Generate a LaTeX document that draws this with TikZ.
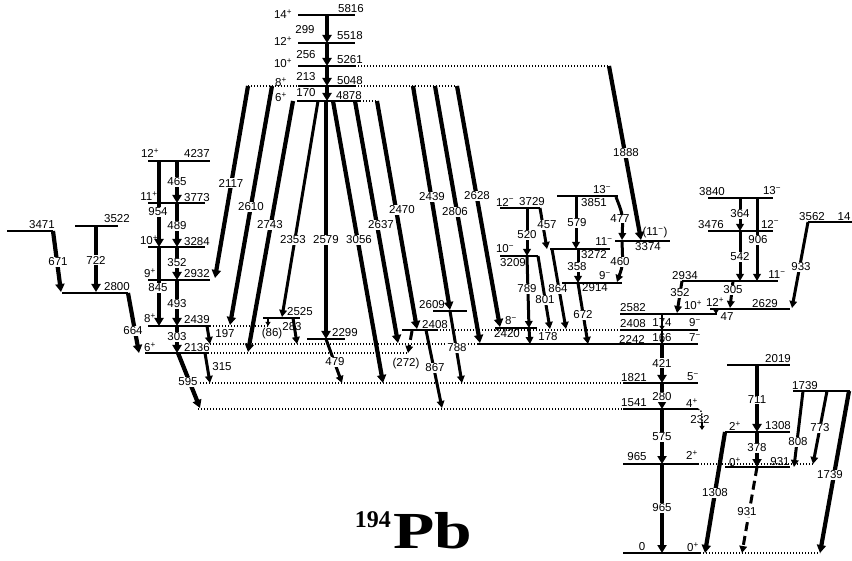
\documentclass[tikz,border=0pt]{standalone}
\usepackage{fontspec}
\setmainfont{Liberation Sans}
\newfontfamily\titlefont{Liberation Serif}
\usetikzlibrary{arrows.meta}
\newcommand\spinP{\textsuperscript{+}}
\newcommand\spinM{\textsuperscript{−}}
\begin{document}
\begin{tikzpicture}[x=1pt,y=-1pt,
 lev/.style={line width=1.3pt},
 dlev/.style={line width=1.1pt, dash pattern=on 1pt off 2pt},
 gT/.style={line width=4.2pt, -{Triangle[length=8pt,width=9pt]}},
 gM/.style={line width=3pt, -{Triangle[length=7pt,width=7.5pt]}},
 gS/.style={line width=1.8pt, -{Triangle[length=4pt,width=5pt]}},
 dsh/.style={dash pattern=on 9pt off 5pt},
 t/.style={font=\fontsize{11.5}{13}\selectfont, inner sep=0.5pt},
 gl/.style={t, fill=white},
]
\useasboundingbox (0,0) rectangle (852,561);
% ---------------- dotted level extensions
\draw[dlev] (355,66) -- (609,66);
\draw[dlev] (248,86) -- (298,86);
\draw[dlev] (355,86) -- (457,86);
\draw[dlev] (360,101) -- (377,101);
\draw[dlev] (210,326) -- (268,326);
\draw[dlev] (208,353) -- (408,353);
\draw[dlev] (210,344) -- (478,344);
\draw[dlev] (437,330) -- (620,330);
\draw[dlev] (200,383) -- (623,383);
\draw[dlev] (198,409) -- (623,409);
\draw[dlev] (698,464) -- (813,464);
\draw[dlev] (700,553) -- (820,553);
% ---------------- levels
\draw[lev] (298,15) -- (355,15);
\draw[lev] (298,43) -- (355,43);
\draw[lev] (298,66) -- (355,66);
\draw[lev] (298,86) -- (355,86);
\draw[lev] (297,101) -- (360,101);
\draw[lev] (148,161) -- (210,161);
\draw[lev] (148,203) -- (205,203);
\draw[lev] (148,247) -- (205,247);
\draw[lev] (148,280) -- (210,280);
\draw[lev] (148,326) -- (210,326);
\draw[lev] (145,353) -- (208,353);
\draw[lev] (7,231) -- (53,231);
\draw[lev] (75,226) -- (118,226);
\draw[lev] (62,293) -- (128,293);
\draw[lev] (263,318) -- (300,318);
\draw[lev] (307,339) -- (345,339);
\draw[lev] (478,344) -- (698,344);
\draw[lev] (402,330) -- (437,330);
\draw[lev] (620,330) -- (698,330);
\draw[lev] (433,311) -- (467,311);
\draw[lev] (495,328) -- (537,328);
\draw[lev] (623,383) -- (698,383);
\draw[lev] (623,409) -- (698,409);
\draw[lev] (500,208) -- (540,208);
\draw[lev] (500,256) -- (538,256);
\draw[lev] (557,196) -- (618,196);
\draw[lev] (550,249) -- (610,249);
\draw[lev] (615,241) -- (670,241);
\draw[lev] (562,283) -- (622,283);
\draw[lev] (620,314) -- (717,314);
\draw[lev] (710,309) -- (790,309);
\draw[lev] (682,281) -- (778,281);
\draw[lev] (708,231) -- (773,231);
\draw[lev] (708,198) -- (773,198);
\draw[lev] (808,222) -- (852,222);
\draw[lev] (623,464) -- (698,464);
\draw[lev] (725,467) -- (790,467);
\draw[lev] (725,432) -- (790,432);
\draw[lev] (727,365) -- (790,365);
\draw[lev] (793,391) -- (850,391);
\draw[lev] (623,553) -- (700,553);
% ---------------- gamma rays
\draw[gT] (327,15) -- (327,43);
\draw[gT] (327,43) -- (327,66);
\draw[gT] (327,66) -- (327,86);
\draw[gT] (327,86) -- (327,101);
\draw[gT] (326,101) -- (326,339);
\draw[gT] (248,86) -- (215,278);
\draw[gT] (272,86) -- (230,325);
\draw[gT] (293,101) -- (248,352);
\draw[gM] (318,101) -- (282,317);
\draw[gT] (333,101) -- (383,383);
\draw[gT] (355,101) -- (398,343);
\draw[gT] (377,101) -- (417,329);
\draw[gT] (413,86) -- (450,310);
\draw[gT] (435,86) -- (480,343);
\draw[gT] (457,86) -- (500,327);
\draw[gT] (609,66) -- (641,240);
% left band
\draw[gT] (177,161) -- (177,203);
\draw[gT] (177,203) -- (177,247);
\draw[gT] (177,247) -- (177,280);
\draw[gT] (177,280) -- (177,326);
\draw[gT] (177,326) -- (177,353);
\draw[gT] (159,161) -- (159,247);
\draw[gT] (159,247) -- (159,326);
\draw[gT] (53,231) -- (61,292);
\draw[gT] (96,226) -- (96,292);
\draw[gT] (128,293) -- (139,353);
\draw[gT] (178,353) -- (200,408);
\draw[gM] (205,353) -- (210,383);
\draw[gM] (207,326) -- (210,344);
\draw[gS] (268,318) -- (268,326);
\draw[gM] (293,318) -- (297,344);
\draw[gM] (326,339) -- (342,383);
% middle
\draw[gM] (450,311) -- (462,383);
\draw[gM] (426,330) -- (442,408);
\draw[gM,dsh] (412,331) -- (408,353);
\draw[gM] (527,208) -- (527,256);
\draw[gM] (527,256) -- (529,328);
\draw[gM] (529,328) -- (530,344);
\draw[gM] (538,256) -- (550,329);
\draw[gM] (540,208) -- (547,249);
\draw[gM] (552,249) -- (566,329);
\draw[gM] (576,196) -- (576,249);
\draw[gM] (578,249) -- (578,283);
\draw[gM] (578,283) -- (588,344);
\draw[gM] (616,197) .. controls (623,215) .. (622,240);
\draw[gM] (622,242) .. controls (623,265) .. (617,282);
% right
\draw[gS] (662,314) -- (662,330);
\draw[gS] (662,330) -- (662,344);
\draw[gT] (662,344) -- (662,383);
\draw[gT] (662,383) -- (662,409);
\draw[gT] (662,409) -- (662,464);
\draw[gT] (662,464) -- (662,553);
\draw[gS] (716,309) -- (716,314);
\draw[gM] (682,281) -- (677,313);
\draw[gM] (733,281) -- (730,308);
\draw[gM] (740,198) -- (740,231);
\draw[gM] (740,231) -- (740,281);
\draw[gM] (757,198) -- (757,281);
\draw[gM] (808,222) -- (792,308);
\draw[gT] (757,365) -- (757,432);
\draw[gT] (757,432) -- (757,467);
\draw[gM,dsh] (757,467) -- (742,553);
\draw[gT] (725,432) -- (705,553);
\draw[gM] (803,391) -- (794,467);
\draw[gM] (827,391) -- (813,464);
\draw[gT] (849,391) -- (820,553);
\draw[line width=1.3pt, dash pattern=on 1.5pt off 1.5pt] (698,409) .. controls (702,411) .. (702,422);
\draw[gS] (702,422) -- (702,430);
% ---------------- labels
\node[t] (s1) at (283,14) {14\spinP};
\node[t] (e1) at (351,9) {5816};
\node[t] (g1) at (305,30) {299};
\node[t] (s2) at (283,41) {12\spinP};
\node[t] (e2) at (350,36) {5518};
\node[t] (g2) at (306,55) {256};
\node[t] (s3) at (283,63) {10\spinP};
\node[t] (e3) at (350,60) {5261};
\node[t] (g3) at (306,77) {213};
\node[t] (s4) at (281,82) {8\spinP};
\node[t] (e4) at (350,81) {5048};
\node[t] (g4) at (306,93) {170};
\node[t] (s5) at (281,97) {6\spinP};
\node[t] (e5) at (349,96) {4878};
% left band
\node[t] (s6) at (150,153) {12\spinP};
\node[t] (e6) at (197,154) {4237};
\node[gl] (g5) at (177,182) {465};
\node[t] (s7) at (149,196) {11\spinP};
\node[t] (e7) at (197,198) {3773};
\node[gl] (g6) at (158,212) {954};
\node[gl] (g7) at (177,226) {489};
\node[t] (s8) at (149,240) {10\spinP};
\node[t] (e8) at (197,242) {3284};
\node[gl] (g8) at (177,263) {352};
\node[t] (s9) at (150,273) {9\spinP};
\node[t] (e9) at (197,274) {2932};
\node[gl] (g9) at (158,288) {845};
\node[gl] (g10) at (177,304) {493};
\node[t] (s10) at (150,318) {8\spinP};
\node[t] (e10) at (197,320) {2439};
\node[gl] (g11) at (177,337) {303};
\node[t] (s11) at (150,347) {6\spinP};
\node[t] (e11) at (197,348) {2136};
\node[t] (e12) at (42,225) {3471};
\node[t] (e13) at (117,219) {3522};
\node[gl] (g12) at (58,262) {671};
\node[gl] (g13) at (96,260) {722};
\node[t] (e14) at (117,287) {2800};
\node[gl] (g14) at (133,331) {664};
% long transitions
\node[gl] (g15) at (231,183) {2117};
\node[gl] (g16) at (251,207) {2610};
\node[gl] (g17) at (270,225) {2743};
\node[gl] (g18) at (293,240) {2353};
\node[gl] (g19) at (326,240) {2579};
\node[gl] (g20) at (359,240) {3056};
\node[gl] (g21) at (381,225) {2637};
\node[gl] (g22) at (402,210) {2470};
\node[gl] (g23) at (432,197) {2439};
\node[gl] (g24) at (455,212) {2806};
\node[gl] (g25) at (477,196) {2628};
\node[gl] (g26) at (626,153) {1888};
% lower middle
\node[t] (g27) at (225,334) {197};
\node[t] (g28) at (272,334) {(86)};
\node[t] (g29) at (292,327) {283};
\node[t] (e15) at (300,312) {2525};
\node[t] (e16) at (345,333) {2299};
\node[gl] (g30) at (335,362) {479};
\node[gl] (g31) at (188,382) {595};
\node[t] (g32) at (222,367) {315};
\node[t] (e17) at (432,305) {2609};
\node[t] (e18) at (435,325) {2408};
\node[gl] (g33) at (457,348) {788};
\node[t] (g34) at (406,364) {(272)};
\node[gl] (g35) at (435,368) {867};
% negative parity band
\node[t] (s12) at (505,202) {12\spinM};
\node[t] (e19) at (532,202) {3729};
\node[gl] (g36) at (527,235) {520};
\node[gl] (g37) at (547,225) {457};
\node[t] (s13) at (505,249) {10\spinM};
\node[t] (e20) at (513,263) {3209};
\node[gl] (g38) at (527,289) {789};
\node[gl] (g39) at (545,300) {801};
\node[gl] (g40) at (558,289) {864};
\node[t] (s14) at (511,321) {8\spinM};
\node[t] (e21) at (507,334) {2420};
\node[t] (g41) at (548,337) {178};
\node[t] (s15) at (602,190) {13\spinM};
\node[t] (e22) at (594,203) {3851};
\node[gl] (g42) at (577,223) {579};
\node[gl] (g43) at (620,219) {477};
\node[t] (s16) at (604,242) {11\spinM};
\node[t] (s17) at (655,233) {(11\spinM)};
\node[t] (e23) at (648,247) {3374};
\node[t] (e24) at (594,255) {3272};
\node[gl] (g44) at (577,267) {358};
\node[gl] (g45) at (620,262) {460};
\node[t] (s18) at (605,276) {9\spinM};
\node[t] (e25) at (595,288) {2914};
\node[gl] (g46) at (583,315) {672};
% yrast right
\node[t] (e26) at (633,308) {2582};
\node[t] (s19) at (693,305) {10\spinP};
\node[t] (e27) at (633,324) {2408};
\node[t] (g47) at (662,323) {174};
\node[t] (s20) at (695,323) {9\spinM};
\node[t] (e28) at (632,339) {2242};
\node[t] (g48) at (662,338) {166};
\node[t] (s21) at (695,338) {7\spinM};
\node[t] (s22) at (715,302) {12\spinP};
\node[t] (e29) at (765,304) {2629};
\node[t] (g49) at (727,317) {47};
\node[t] (e30) at (685,276) {2934};
\node[t] (s23) at (777,275) {11\spinM};
\node[gl] (g50) at (680,293) {352};
\node[gl] (g51) at (733,290) {305};
\node[t] (e31) at (711,225) {3476};
\node[t] (s24) at (770,224) {12\spinM};
\node[t] (e32) at (712,192) {3840};
\node[t] (s25) at (772,191) {13\spinM};
\node[gl] (g52) at (740,214) {364};
\node[gl] (g53) at (740,257) {542};
\node[gl] (g54) at (758,240) {906};
\node[t] (e33) at (812,217) {3562};
\node[t] (s26) at (844,217) {14};
\node[gl] (g55) at (801,267) {933};
% low-lying
\node[gl] (g56) at (662,363) {421};
\node[t] (e34) at (634,378) {1821};
\node[t] (s27) at (693,377) {5\spinM};
\node[gl] (g57) at (662,397) {280};
\node[t] (e35) at (634,403) {1541};
\node[t] (s28) at (692,403) {4\spinP};
\node[t] (g58) at (700,420) {232};
\node[gl] (g59) at (662,437) {575};
\node[t] (e36) at (637,457) {965};
\node[t] (s29) at (692,455) {2\spinP};
\node[gl] (g60) at (662,508) {965};
\node[t] (e37) at (642,547) {0};
\node[t] (s30) at (693,547) {0\spinP};
\node[t] (e38) at (778,359) {2019};
\node[gl] (g61) at (757,400) {711};
\node[t] (s31) at (735,426) {2\spinP};
\node[t] (e39) at (778,426) {1308};
\node[gl] (g62) at (757,448) {378};
\node[t] (s32) at (735,462) {0\spinP};
\node[t] (e40) at (780,462) {931};
\node[gl] (g63) at (715,493) {1308};
\node[gl] (g64) at (747,512) {931};
\node[t] (e41) at (805,386) {1739};
\node[gl] (g65) at (798,442) {808};
\node[gl] (g66) at (820,428) {773};
\node[gl] (g67) at (830,475) {1739};
% title
\node[anchor=base east, inner sep=0pt] (t194) at (391,527) {\titlefont\bfseries\fontsize{24}{24}\selectfont 194};
\node[anchor=base west, inner sep=0pt] (tPb) at (393,548) {\titlefont\bfseries\fontsize{52}{52}\selectfont\scalebox{1.3}[1]{Pb}};
\end{tikzpicture}
\end{document}
